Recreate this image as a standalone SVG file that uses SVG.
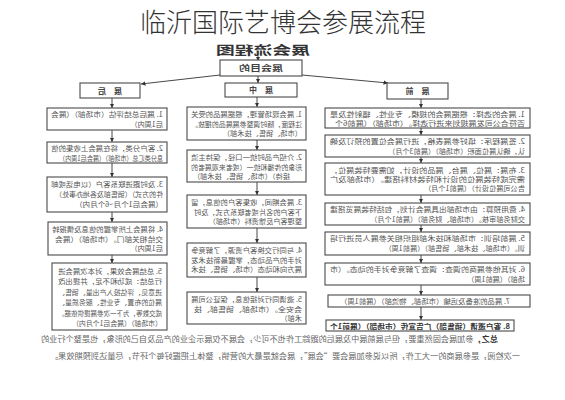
<svg xmlns="http://www.w3.org/2000/svg" width="565" height="400" viewBox="0 0 565 400">
<defs>
<marker id="a" viewBox="0 0 6 6" refX="6" refY="3" markerWidth="4.5" markerHeight="4.5" markerUnits="userSpaceOnUse" orient="auto"><path d="M0,0 L6,3 L0,6 z" fill="#333"/></marker>
<style>
.bg{fill:#fff}
.box{fill:#fff;stroke:#4a4a4a;stroke-width:1.1}
.t{font-family:"Noto Sans CJK SC","Liberation Sans",sans-serif;font-size:7.2px;fill:#555}
.h{font-family:"Noto Sans CJK SC","Liberation Sans",sans-serif;font-size:8px;font-weight:bold;fill:#444;text-anchor:middle}
.c{stroke:#333;stroke-width:0.9;fill:none;marker-end:url(#a)}
.f{font-family:"Noto Sans CJK SC","Liberation Sans",sans-serif;font-size:7.6px;fill:#666}
</style>
</defs>
<rect class="bg" x="0" y="0" width="565" height="400"/>
<text x="283" y="32" text-anchor="middle" font-family="Noto Sans CJK SC, Liberation Sans, sans-serif" font-size="26" font-weight="300" fill="#333">临沂国际艺博会参展流程</text>
<g id="header"><text class="h" style="font-size:12.5px;fill:#333" transform="matrix(-1 0 0 1 263 55)" textLength="94" lengthAdjust="spacingAndGlyphs">展会流程图</text></g>
<g id="connectors">
<path class="c" d="M258,56 V61"/>
<path class="c" d="M258,76 V83"/>
<path class="c" d="M220,75 L141,84"/>
<path class="c" d="M302,75 L388,83"/>
<path class="c" d="M112,98 V108"/><path class="c" d="M112,130 V142"/><path class="c" d="M112,163 V177"/><path class="c" d="M112,212 V222"/><path class="c" d="M112,255 V263"/>
<path class="c" d="M257,97 V107"/><path class="c" d="M257,140 V150"/><path class="c" d="M257,182 V195"/><path class="c" d="M257,228 V243"/><path class="c" d="M257,277 V292"/>
<path class="c" d="M421,99 V108"/><path class="c" d="M421,128 V135"/><path class="c" d="M421,157 V163"/><path class="c" d="M421,195 V203"/><path class="c" d="M421,225 V232"/><path class="c" d="M421,255 V263"/><path class="c" d="M421,285 V295"/><path class="c" d="M421,307 V320"/>
</g>
<g id="goal"><rect class="box" x="220" y="60" width="82" height="16"/><text class="h" transform="matrix(-1 0 0 1 261 71)" textLength="44" lengthAdjust="spacingAndGlyphs">展会目的</text></g>
<g id="after"><rect class="box" x="80" y="83" width="60" height="15"/><text class="h" transform="matrix(-1 0 0 1 110 93.5)">展　后</text></g>
<g id="during"><rect class="box" x="225" y="83" width="72" height="14"/><text class="h" transform="matrix(-1 0 0 1 261 93)">展　中</text></g>
<g id="before"><rect class="box" x="387" y="83" width="61" height="16"/><text class="h" transform="matrix(-1 0 0 1 417.5 94)">展　前</text></g>

<g id="after1"><rect class="box" x="47" y="108" width="120" height="22"/>
<text class="t" transform="matrix(-1 0 0 1 163 117)" textLength="112" lengthAdjust="spacingAndGlyphs">1. 展后总结评估（市场部）（展会</text>
<text class="t" transform="matrix(-1 0 0 1 163 126.5)">后1周内）</text></g>
<g id="after2"><rect class="box" x="47" y="142" width="120" height="21"/>
<text class="t" transform="matrix(-1 0 0 1 163 151)" textLength="112" lengthAdjust="spacingAndGlyphs">2. 客户分类，将在展会上收集的信</text>
<text class="t" transform="matrix(-1 0 0 1 163 160.5)" textLength="104" lengthAdjust="spacingAndGlyphs">息分类汇总（市场部）（展会后1周内）</text></g>
<g id="after3"><rect class="box" x="47" y="177" width="120" height="35"/>
<text class="t" transform="matrix(-1 0 0 1 163 187)" textLength="112" lengthAdjust="spacingAndGlyphs">3. 及时跟进联系客户（以电话或邮</text>
<text class="t" transform="matrix(-1 0 0 1 163 197)" textLength="108" lengthAdjust="spacingAndGlyphs">件的方式）（销售部及各地办事处）</text>
<text class="t" transform="matrix(-1 0 0 1 163 207)" textLength="88" lengthAdjust="spacingAndGlyphs">（展会后1个月~6个月内）</text></g>
<g id="after4"><rect class="box" x="48" y="222" width="119" height="33"/>
<text class="t" transform="matrix(-1 0 0 1 163 232)" textLength="111" lengthAdjust="spacingAndGlyphs">4. 将展会上所掌握的信息及情报转</text>
<text class="t" transform="matrix(-1 0 0 1 163 241.5)" textLength="108" lengthAdjust="spacingAndGlyphs">交给相关部门。（市场部）（展会</text>
<text class="t" transform="matrix(-1 0 0 1 163 251)">后1周内）</text></g>
<g id="after5"><rect class="box" x="52" y="263" width="115" height="67"/>
<text class="t" transform="matrix(-1 0 0 1 162 273.5)" textLength="104" lengthAdjust="spacingAndGlyphs">5. 总结展会效果，对本次展会进</text>
<text class="t" transform="matrix(-1 0 0 1 162 284)" textLength="104" lengthAdjust="spacingAndGlyphs">行总结：成功和不足，并提出改</text>
<text class="t" transform="matrix(-1 0 0 1 162 294.5)" textLength="104" lengthAdjust="spacingAndGlyphs">进意见，评估投入产出量、销售、</text>
<text class="t" transform="matrix(-1 0 0 1 162 305)" textLength="104" lengthAdjust="spacingAndGlyphs">展位的布置、专业性、服务质量、</text>
<text class="t" transform="matrix(-1 0 0 1 162 315.5)" textLength="104" lengthAdjust="spacingAndGlyphs">成交数等，为下一次参展提供依据。</text>
<text class="t" transform="matrix(-1 0 0 1 162 326)" textLength="90" lengthAdjust="spacingAndGlyphs">（市场部）（展会后1个月内）</text></g>

<g id="during1"><rect class="box" x="187" y="107" width="119" height="33"/>
<text class="t" transform="matrix(-1 0 0 1 302 117)" textLength="111" lengthAdjust="spacingAndGlyphs">1. 展会现场管理，根据展品的受关</text>
<text class="t" transform="matrix(-1 0 0 1 302 126.5)" textLength="111" lengthAdjust="spacingAndGlyphs">注程度，随时调整参展展品的摆放。</text>
<text class="t" transform="matrix(-1 0 0 1 302 136)">（市场、销售、技术部）</text></g>
<g id="during2"><rect class="box" x="187" y="150" width="119" height="32"/>
<text class="t" transform="matrix(-1 0 0 1 302 160)" textLength="111" lengthAdjust="spacingAndGlyphs">2. 介绍产品时统一口径，保持主流</text>
<text class="t" transform="matrix(-1 0 0 1 302 169.5)" textLength="111" lengthAdjust="spacingAndGlyphs">形象的传播和统一（或者来观展者的</text>
<text class="t" transform="matrix(-1 0 0 1 290 179)">接待）（市场、销售、技术部）</text></g>
<g id="during3"><rect class="box" x="187" y="195" width="119" height="33"/>
<text class="t" transform="matrix(-1 0 0 1 302 205)" textLength="111" lengthAdjust="spacingAndGlyphs">3. 展会期间，收集客户的信息，留</text>
<text class="t" transform="matrix(-1 0 0 1 302 214.5)" textLength="108" lengthAdjust="spacingAndGlyphs">下客户的名片或者联系方式，及时</text>
<text class="t" transform="matrix(-1 0 0 1 302 224)">整理客户反馈资料（市场部）</text></g>
<g id="during4"><rect class="box" x="187" y="243" width="119" height="34"/>
<text class="t" transform="matrix(-1 0 0 1 302 253)" textLength="111" lengthAdjust="spacingAndGlyphs">4. 与同行交换客户资源，了解竞争</text>
<text class="t" transform="matrix(-1 0 0 1 302 262.5)" textLength="111" lengthAdjust="spacingAndGlyphs">对手的产品动态，掌握最新技术发</text>
<text class="t" transform="matrix(-1 0 0 1 302 272)" textLength="111" lengthAdjust="spacingAndGlyphs">展方向和动态（市场、销售、技术</text></g>
<g id="during5"><rect class="box" x="187" y="292" width="119" height="32"/>
<text class="t" transform="matrix(-1 0 0 1 302 302)" textLength="111" lengthAdjust="spacingAndGlyphs">5. 邀请同行对接信息，保证公司展</text>
<text class="t" transform="matrix(-1 0 0 1 302 311.5)" textLength="108" lengthAdjust="spacingAndGlyphs">会安全。（市场部、销售部、技</text>
<text class="t" transform="matrix(-1 0 0 1 302 321)">术部）</text></g>

<g id="before1"><rect class="box" x="325" y="108" width="205" height="20"/>
<text class="t" transform="matrix(-1 0 0 1 525 116.5)" textLength="195" lengthAdjust="spacingAndGlyphs">1. 展会的选择：根据展会的规模、专业性、辐射性及是</text>
<text class="t" transform="matrix(-1 0 0 1 525 125.5)" textLength="190" lengthAdjust="spacingAndGlyphs">否符合公司发展规划来进行选择。（市场部）（展前6个</text></g>
<g id="before2"><rect class="box" x="325" y="135" width="205" height="22"/>
<text class="t" transform="matrix(-1 0 0 1 525 144)" textLength="195" lengthAdjust="spacingAndGlyphs">2. 签展程序：填好参展表格，进行展会位置的预订及确</text>
<text class="t" transform="matrix(-1 0 0 1 525 153.5)">认，确认展位面积（市场部）（展前3个月）</text></g>
<g id="before3"><rect class="box" x="325" y="163" width="205" height="32"/>
<text class="t" transform="matrix(-1 0 0 1 525 172.5)" textLength="195" lengthAdjust="spacingAndGlyphs">3. 布展：展位、展台、展品的设计，如需要特装展位，</text>
<text class="t" transform="matrix(-1 0 0 1 525 181.5)" textLength="195" lengthAdjust="spacingAndGlyphs">需完成特装展位的设计和特装材料搭建。（市场部及广</text>
<text class="t" transform="matrix(-1 0 0 1 525 190.5)">告公司展位设计）（展前1个月）</text></g>
<g id="before4"><rect class="box" x="325" y="203" width="205" height="22"/>
<text class="t" transform="matrix(-1 0 0 1 525 212)" textLength="195" lengthAdjust="spacingAndGlyphs">4. 费用预算：由市场部出具展会计划，包括特装展览搭建</text>
<text class="t" transform="matrix(-1 0 0 1 525 221.5)">交财务部审核。（市场部、财务部）（展前1个月）</text></g>
<g id="before5"><rect class="box" x="325" y="232" width="205" height="23"/>
<text class="t" transform="matrix(-1 0 0 1 525 241)" textLength="195" lengthAdjust="spacingAndGlyphs">5. 展前培训：市场部和技术部组织相关参展人员进行培</text>
<text class="t" transform="matrix(-1 0 0 1 525 250.5)">训。（市场部、技术部、销售部）（展前1周）</text></g>
<g id="before6"><rect class="box" x="325" y="263" width="205" height="22"/>
<text class="t" transform="matrix(-1 0 0 1 525 272)" textLength="195" lengthAdjust="spacingAndGlyphs">6. 对其他参展商的调查：调查了解竞争对手的动态。（市</text>
<text class="t" transform="matrix(-1 0 0 1 525 281.5)">场部）（展前1周）</text></g>
<g id="before7"><rect class="box" x="328" y="295" width="202" height="12"/>
<text class="t" transform="matrix(-1 0 0 1 510 303.8)" textLength="170" lengthAdjust="spacingAndGlyphs">7. 展品的准备及运输（市场部、物流部）（展前1周）</text></g>
<g id="before8"><rect class="box" x="326" y="320" width="188" height="11"/>
<text class="t" style="font-weight:bold;fill:#333" transform="matrix(-1 0 0 1 510 328.5)" textLength="180" lengthAdjust="spacingAndGlyphs">8. 客户邀请（销售部）广告宣传（市场部）（展前1个</text></g>

<g id="footer">
<text class="f" transform="matrix(-1 0 0 1 498 342)" textLength="457" lengthAdjust="spacingAndGlyphs"><tspan font-weight="bold" fill="#333">总之，</tspan>参加展会固然重要，但与展前展中及展后的跟踪工作也不可少，会展不仅展示企业的产品及自己的形象，也是整个行业的</text>
<text class="f" transform="matrix(-1 0 0 1 520 359)" textLength="470" lengthAdjust="spacingAndGlyphs">一次检阅，是参展商的一大工作，所以说参加展会要“会展”，展会就是最大的营销，整体上把握好每个环节，尽量达到预期效果。</text>
</g>
</svg>
